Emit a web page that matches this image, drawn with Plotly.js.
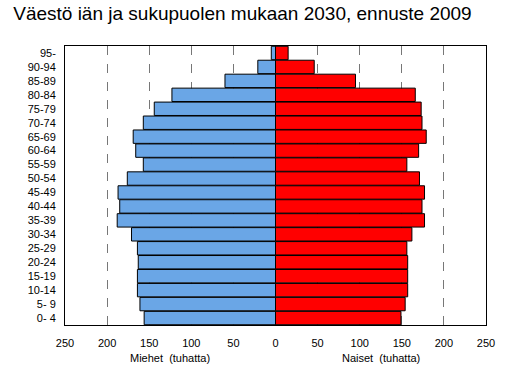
<!DOCTYPE html>
<html>
<head>
<meta charset="utf-8">
<script src="https://cdn.plot.ly/plotly-3.0.1.min.js"></script>
<style>html,body{margin:0;padding:0;background:#fff;}#chart{width:529px;height:378px;}</style>
</head>
<body>
<div id="chart"></div>
<script>
const ageGroups = ["0- 4","5- 9","10-14","15-19","20-24","25-29","30-34","35-39","40-44","45-49","50-54","55-59","60-64","65-69","70-74","75-79","80-84","85-89","90-94","95-"];
const men   = [156,161,164,164,163,164,171,188,185,187,176,157,166,169,157,144,123,60,21,5];
const women = [149,154,157,157,157,156,162,177,174,177,171,156,170,179,174,173,166,95,46,15];
const tickValues = [-250,-200,-150,-100,-50,0,50,100,150,200,250];
const tickLabels = ["250","200","150","100","50","0","50","100","150","200","250"];

const font = "Arial, 'Liberation Sans', sans-serif";
const traces = [
  {type:'bar', orientation:'h', y:ageGroups, x:men.map(v=>-v), name:'Miehet',
   marker:{color:'#6aa6e6', line:{color:'#000', width:1}}, hoverinfo:'skip'},
  {type:'bar', orientation:'h', y:ageGroups, x:women, name:'Naiset',
   marker:{color:'#ff0000', line:{color:'#000', width:1}}, hoverinfo:'skip'}
];
const layout = {
  width:529, height:378,
  margin:{l:65, r:43, t:46, b:53},
  paper_bgcolor:'#fff', plot_bgcolor:'#fff',
  font:{family:font, size:11, color:'#000'},
  showlegend:false,
  barmode:'overlay', bargap:0.04,
  title:{text:'Väestö iän ja sukupuolen mukaan 2030, ennuste 2009', x:0.025, xanchor:'left', y:0.965, yanchor:'middle',
         font:{family:font, size:19, color:'#000'}},
  xaxis:{range:[-250,250], tickmode:'array', tickvals:tickValues, ticktext:tickLabels,
         showgrid:true, gridcolor:'#777', griddash:'dash', gridwidth:1,
         zeroline:false, showline:true, mirror:true, linecolor:'#000', linewidth:1,
         ticks:'', ticklabelstandoff:8, tickfont:{size:11}},
  yaxis:{type:'category', categoryorder:'array', categoryarray:ageGroups,
         showgrid:false, zeroline:false, showline:true, mirror:true, linecolor:'#000', linewidth:1,
         ticks:'', ticklabelstandoff:6, tickfont:{size:11}},
  annotations:[
    {text:'Miehet  (tuhatta)', x:-125, xref:'x', y:-0.12, yref:'paper', showarrow:false, yanchor:'middle', font:{size:11}},
    {text:'Naiset  (tuhatta)', x:125, xref:'x', y:-0.12, yref:'paper', showarrow:false, yanchor:'middle', font:{size:11}}
  ]
};
Plotly.newPlot('chart', traces, layout, {displayModeBar:false, staticPlot:true});
</script>
</body>
</html>
